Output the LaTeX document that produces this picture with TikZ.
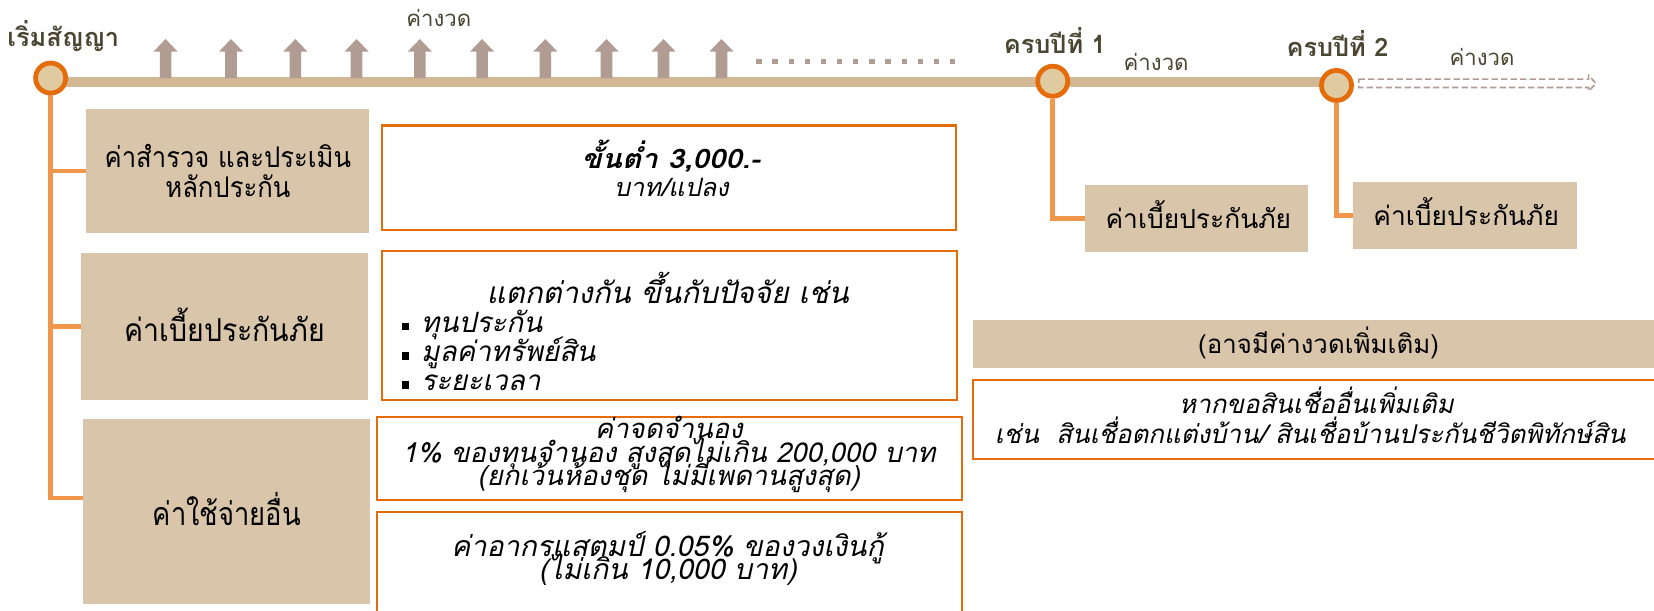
\documentclass[tikz,border=0pt]{standalone}
\usepackage{fontspec}
\newfontfamily\thf[Script=Thai]{Loma}
\newfontfamily\thA[Script=Thai,FakeStretch=0.9]{Loma}
\newfontfamily\thB[Script=Thai,FakeStretch=1.1]{Loma}
\newfontfamily\thC[Script=Thai,FakeStretch=0.85]{Loma}
\definecolor{tanfill}{HTML}{D9C6AA}
\definecolor{tline}{HTML}{D3B896}
\definecolor{arrc}{HTML}{B09C93}
\definecolor{orgdark}{HTML}{E46C0A}
\definecolor{orglight}{HTML}{F0974B}
\definecolor{circfill}{HTML}{E0CBA0}
\definecolor{olive}{HTML}{4A4631}
\newcommand{\sqbullet}{\makebox[18pt][l]{\rule[2pt]{7pt}{7pt}}}
\tikzset{
  tanbox/.style={fill=tanfill, draw=none, inner sep=0pt},
  whitebox/.style={fill=white, draw=orgdark, line width=2pt, inner sep=0pt},
  milestone/.style={circle, fill=circfill, draw=orgdark, line width=4.5pt, minimum size=28.5pt, inner sep=0pt},
  conn/.style={draw=orglight, line width=4.5pt},
  upark/.style={fill=arrc, draw=none},
  tllabel/.style={text=olive, anchor=base, inner sep=0pt, font=\thf\bfseries\fontsize{24}{26}\selectfont},
  pay/.style={text=olive, anchor=base, inner sep=0pt, font=\thf\fontsize{21}{23}\selectfont},
  txt/.style={inner sep=0pt, anchor=base, text=black}
}
\begin{document}
\begin{tikzpicture}[x=1pt,y=-1pt]
\useasboundingbox (0,0) rectangle (1568,579.2);
% timeline
\coordinate (p1) at (48,74);
\coordinate (p2) at (998,77);
\coordinate (p3) at (1267,81);
\coordinate (l1) at (48,78);
\coordinate (l3) at (1267,78);
\draw[tline, line width=9.5pt] (l1) -- (l3);
% up arrows (payments)
\foreach \ax in {157,219,280,338,398,457,517,575,629,684}{
  \fill[upark] (\ax-5.5,74) -- (\ax-5.5,49) -- (\ax-11.5,49) -- (\ax,37) -- (\ax+11.5,49) -- (\ax+5.5,49) -- (\ax+5.5,74) -- cycle;
}
% dotted run
\foreach \k in {0,...,12}{
  \fill[arrc] (717+15.3*\k,56) rectangle ++(5,5);
}
% dashed outline arrow after year 2
\draw[arrc, line width=1.6pt, dash pattern=on 6pt off 3pt]
  (1288,75) -- (1506,75) -- (1506,71.5) -- (1513,79) -- (1506,86.5) -- (1506,83) -- (1288,83) -- cycle;
% milestones
\node[milestone] (c1) at (p1) {};
\node[milestone] (c2) at (p2) {};
\node[milestone] (c3) at (p3) {};
% timeline labels
\node[tllabel] (lstart) at (60,44.3) {เริ่มสัญญา};
\node[tllabel] (ly1) at (1000,50.6) {ครบปีที่ 1};
\node[tllabel] (ly2) at (1268,54) {ครบปีที่ 2};
\node[pay] (pay1) at (416,25) {ค่างวด};
\node[pay] (pay2) at (1096,67) {ค่างวด};
\node[pay] (pay3) at (1405,62) {ค่างวด};
% left boxes
\node[tanbox, minimum width=268pt, minimum height=117pt] (b1) at (216,162) {};
\node[txt, font=\thA\fontsize{27}{30}\selectfont] (b1a) at (216,159) {ค่าสำรวจ และประเมิน};
\node[txt, font=\thA\fontsize{27}{30}\selectfont] (b1b) at (216,187) {หลักประกัน};
\node[tanbox, minimum width=272pt, minimum height=140pt] (b2) at (213,309.5) {};
\node[txt, font=\thA\fontsize{30}{32}\selectfont] (b2a) at (213,324) {ค่าเบี้ยประกันภัย};
\node[tanbox, minimum width=272pt, minimum height=176pt] (b3) at (215,485) {};
\node[txt, font=\thC\fontsize{30.5}{33}\selectfont] (b3a) at (215,498) {ค่าใช้จ่ายอื่น};
% connectors left
\draw[conn] (c1.south) |- (b1.west);
\draw[conn] (c1.south) |- (b2.west);
\draw[conn] (c1.south) |- ([yshift=13pt]b3.west);
% right detail boxes
\node[whitebox, minimum width=544pt, minimum height=99pt] (r1) at (634,168.5) {};
\node[txt, font=\thB\bfseries\itshape\fontsize{25.5}{27}\selectfont] (r1a) at (636,160) {ขั้นต่ำ 3,000.-};
\node[txt, font=\thf\itshape\fontsize{24}{26}\selectfont] (r1b) at (636.5,186) {บาท/แปลง};
\node[whitebox, minimum width=545pt, minimum height=141pt] (r2) at (634.5,308.5) {};
\node[txt, font=\thf\itshape\fontsize{28}{30}\selectfont] (r2a) at (633,288) {แตกต่างกัน ขึ้นกับปัจจัย เช่น};
\node[txt, anchor=base west, font=\thf\itshape\fontsize{26.5}{28}\selectfont] (r2b) at (381,315) {\sqbullet ทุนประกัน};
\node[txt, anchor=base west, font=\thf\itshape\fontsize{26.5}{28}\selectfont] (r2c) at (381,343) {\sqbullet มูลค่าทรัพย์สิน};
\node[txt, anchor=base west, font=\thf\itshape\fontsize{26.5}{28}\selectfont] (r2d) at (381,370.5) {\sqbullet ระยะเวลา};
\node[whitebox, minimum width=555pt, minimum height=79pt] (r3) at (634.5,434.5) {};
\node[txt, font=\thf\itshape\fontsize{26}{22}\selectfont] (r3a) at (634,416) {ค่าจดจำนอง};
\node[txt, font=\thf\itshape\fontsize{26}{22}\selectfont] (r3b) at (634,438) {1\% ของทุนจำนอง สูงสุดไม่เกิน 200,000 บาท};
\node[txt, font=\thf\itshape\fontsize{26}{22}\selectfont] (r3c) at (634,460) {(ยกเว้นห้องชุด ไม่มีเพดานสูงสุด)};
\node[whitebox, minimum width=555pt, minimum height=110pt] (r4) at (634.5,540) {};
\node[txt, font=\thf\itshape\fontsize{27}{22}\selectfont] (r4a) at (633,528) {ค่าอากรแสตมป์ 0.05\% ของวงเงินกู้};
\node[txt, font=\thf\itshape\fontsize{27}{22}\selectfont] (r4b) at (633,549) {(ไม่เกิน 10,000 บาท)};
% year boxes
\node[tanbox, minimum width=211pt, minimum height=63pt] (y1) at (1134.5,207) {};
\node[txt, font=\thf\fontsize{25}{27}\selectfont] (y1a) at (1136,217) {ค่าเบี้ยประกันภัย};
\node[tanbox, minimum width=212pt, minimum height=63pt] (y2) at (1389,204.5) {};
\node[txt, font=\thf\fontsize{25}{27}\selectfont] (y2a) at (1390,214) {ค่าเบี้ยประกันภัย};
\draw[conn] (c2.south) |- (y1.west);
\draw[conn] (c3.south) |- (y2.west);
% extra
\node[tanbox, minimum width=646pt, minimum height=45.5pt] (extra) at (1245,326) {};
\node[txt, font=\thf\fontsize{24.5}{26}\selectfont] (extraa) at (1250,335) {(อาจมีค่างวดเพิ่มเติม)};
\node[whitebox, minimum width=650pt, minimum height=75pt] (loan) at (1247,398) {};
\node[txt, font=\thf\itshape\fontsize{24.5}{26}\selectfont] (loana) at (1248,392) {หากขอสินเชื่ออื่นเพิ่มเติม};
\node[txt, font=\thf\itshape\fontsize{24.5}{26}\selectfont] (loanb) at (1242,420) {เช่น \ สินเชื่อตกแต่งบ้าน/ สินเชื่อบ้านประกันชีวิตพิทักษ์สิน};
\end{tikzpicture}
\end{document}
